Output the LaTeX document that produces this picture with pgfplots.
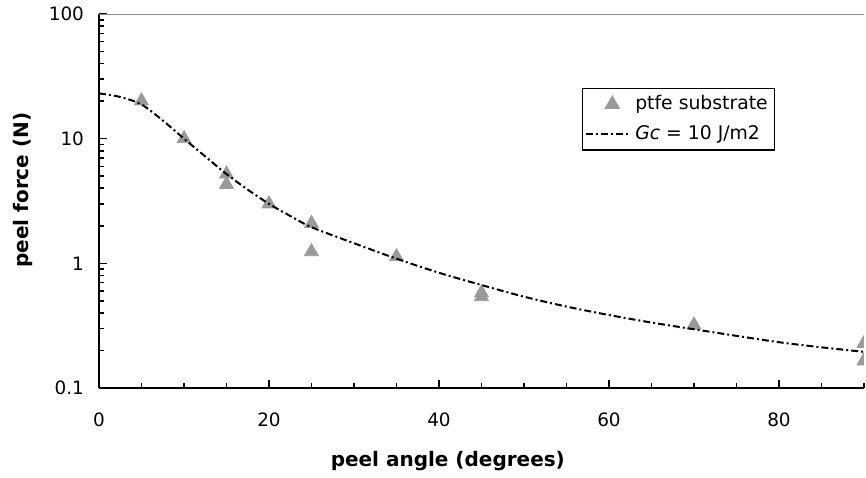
\documentclass[border=0pt]{standalone}
\usepackage{fontspec}
\setmainfont{DejaVu Sans}
\usepackage{pgfplots}
\pgfplotsset{compat=1.18}
\definecolor{mk}{HTML}{9A9A9A}
\pgfplotsset{
  mklegend/.style={legend image code/.code={\draw[mark repeat=2, mark phase=2, ##1] plot coordinates {(0pt,0pt) (13pt,0pt) (22pt,0pt)};}},
  lnlegend/.style={legend image code/.code={\draw[##1] (0pt,0pt) -- (22pt,0pt);}},
}
\begin{document}
\begin{tikzpicture}
\begin{axis}[
  scale only axis, width=382.5pt, height=187pt,
  xmin=0, xmax=90, ymin=0.1, ymax=100, ymode=log,
  axis x line*=bottom, axis y line*=left,
  axis line style={line width=1pt, -},
  tick style={black, line width=0.8pt},
  tick align=inside,
  major tick length=4pt, minor tick length=2.5pt,
  xtick={0,20,40,60,80}, minor xtick={5,10,...,90},
  ytick={0.1,1,10,100}, yticklabels={0.1,1,10,100},
  /pgf/number format/assume math mode=true,
  ticklabel style={font=\fontsize{9.2}{11}\selectfont},
  xticklabel style={yshift=-9pt},
  yticklabel style={xshift=-4pt},
  xlabel={\textbf{peel angle (degrees)}},
  ylabel={\textbf{peel force (N)}},
  label style={font=\fontsize{10}{12}\selectfont},
  xlabel style={at={(axis description cs:0.456,0)}, anchor=center, yshift=-36.5pt},
  ylabel style={at={([xshift=-38pt]axis description cs:0,0.529)}, anchor=center},
  clip marker paths=true, clip bounding box=upper bound,
  legend style={at={(rel axis cs:0.631,0.802)}, anchor=north west, draw=black, line width=0.6pt,
    font=\fontsize{9.4}{11}\selectfont, inner sep=1.5pt, row sep=2.5pt},
  legend cell align=left,
]
\addplot[only marks, mark=triangle*, mark size=4pt, mark options={fill=mk, draw=mk}, mklegend]
  coordinates {
  (5,20.1) (10,10.0) (15,5.2) (15,4.3) (20,3.0) (25,2.09) (25,1.24)
  (35,1.13) (45,0.58) (45,0.54) (70,0.32) (90,0.228) (90,0.165)
  };
\addlegendentry{ptfe substrate}
\addplot[black, line width=1pt, smooth, dash pattern=on 3.5pt off 1.5pt on 1pt off 1.5pt, lnlegend]
  coordinates {
  (0,23.1) (2.5,21.6) (5,18.8) (7.5,14) (10,10) (12.5,7.2) (15,5.2) (17.5,3.9)
  (20,3.0) (22.5,2.4) (25,1.95) (30,1.45) (35,1.09) (40,0.84) (45,0.67)
  (50,0.54) (55,0.45) (60,0.385) (65,0.335) (70,0.296) (75,0.262) (80,0.233)
  (85,0.212) (90,0.195)
  };
\addlegendentry{\textit{Gc} = 10 J/m2}
\draw[black!45, line width=1pt] (rel axis cs:0,1) -- (rel axis cs:1,1);
\end{axis}
\pgfresetboundingbox
\useasboundingbox (-49.5pt,-44.5pt) rectangle (383.5pt,194pt);
\end{tikzpicture}
\end{document}
